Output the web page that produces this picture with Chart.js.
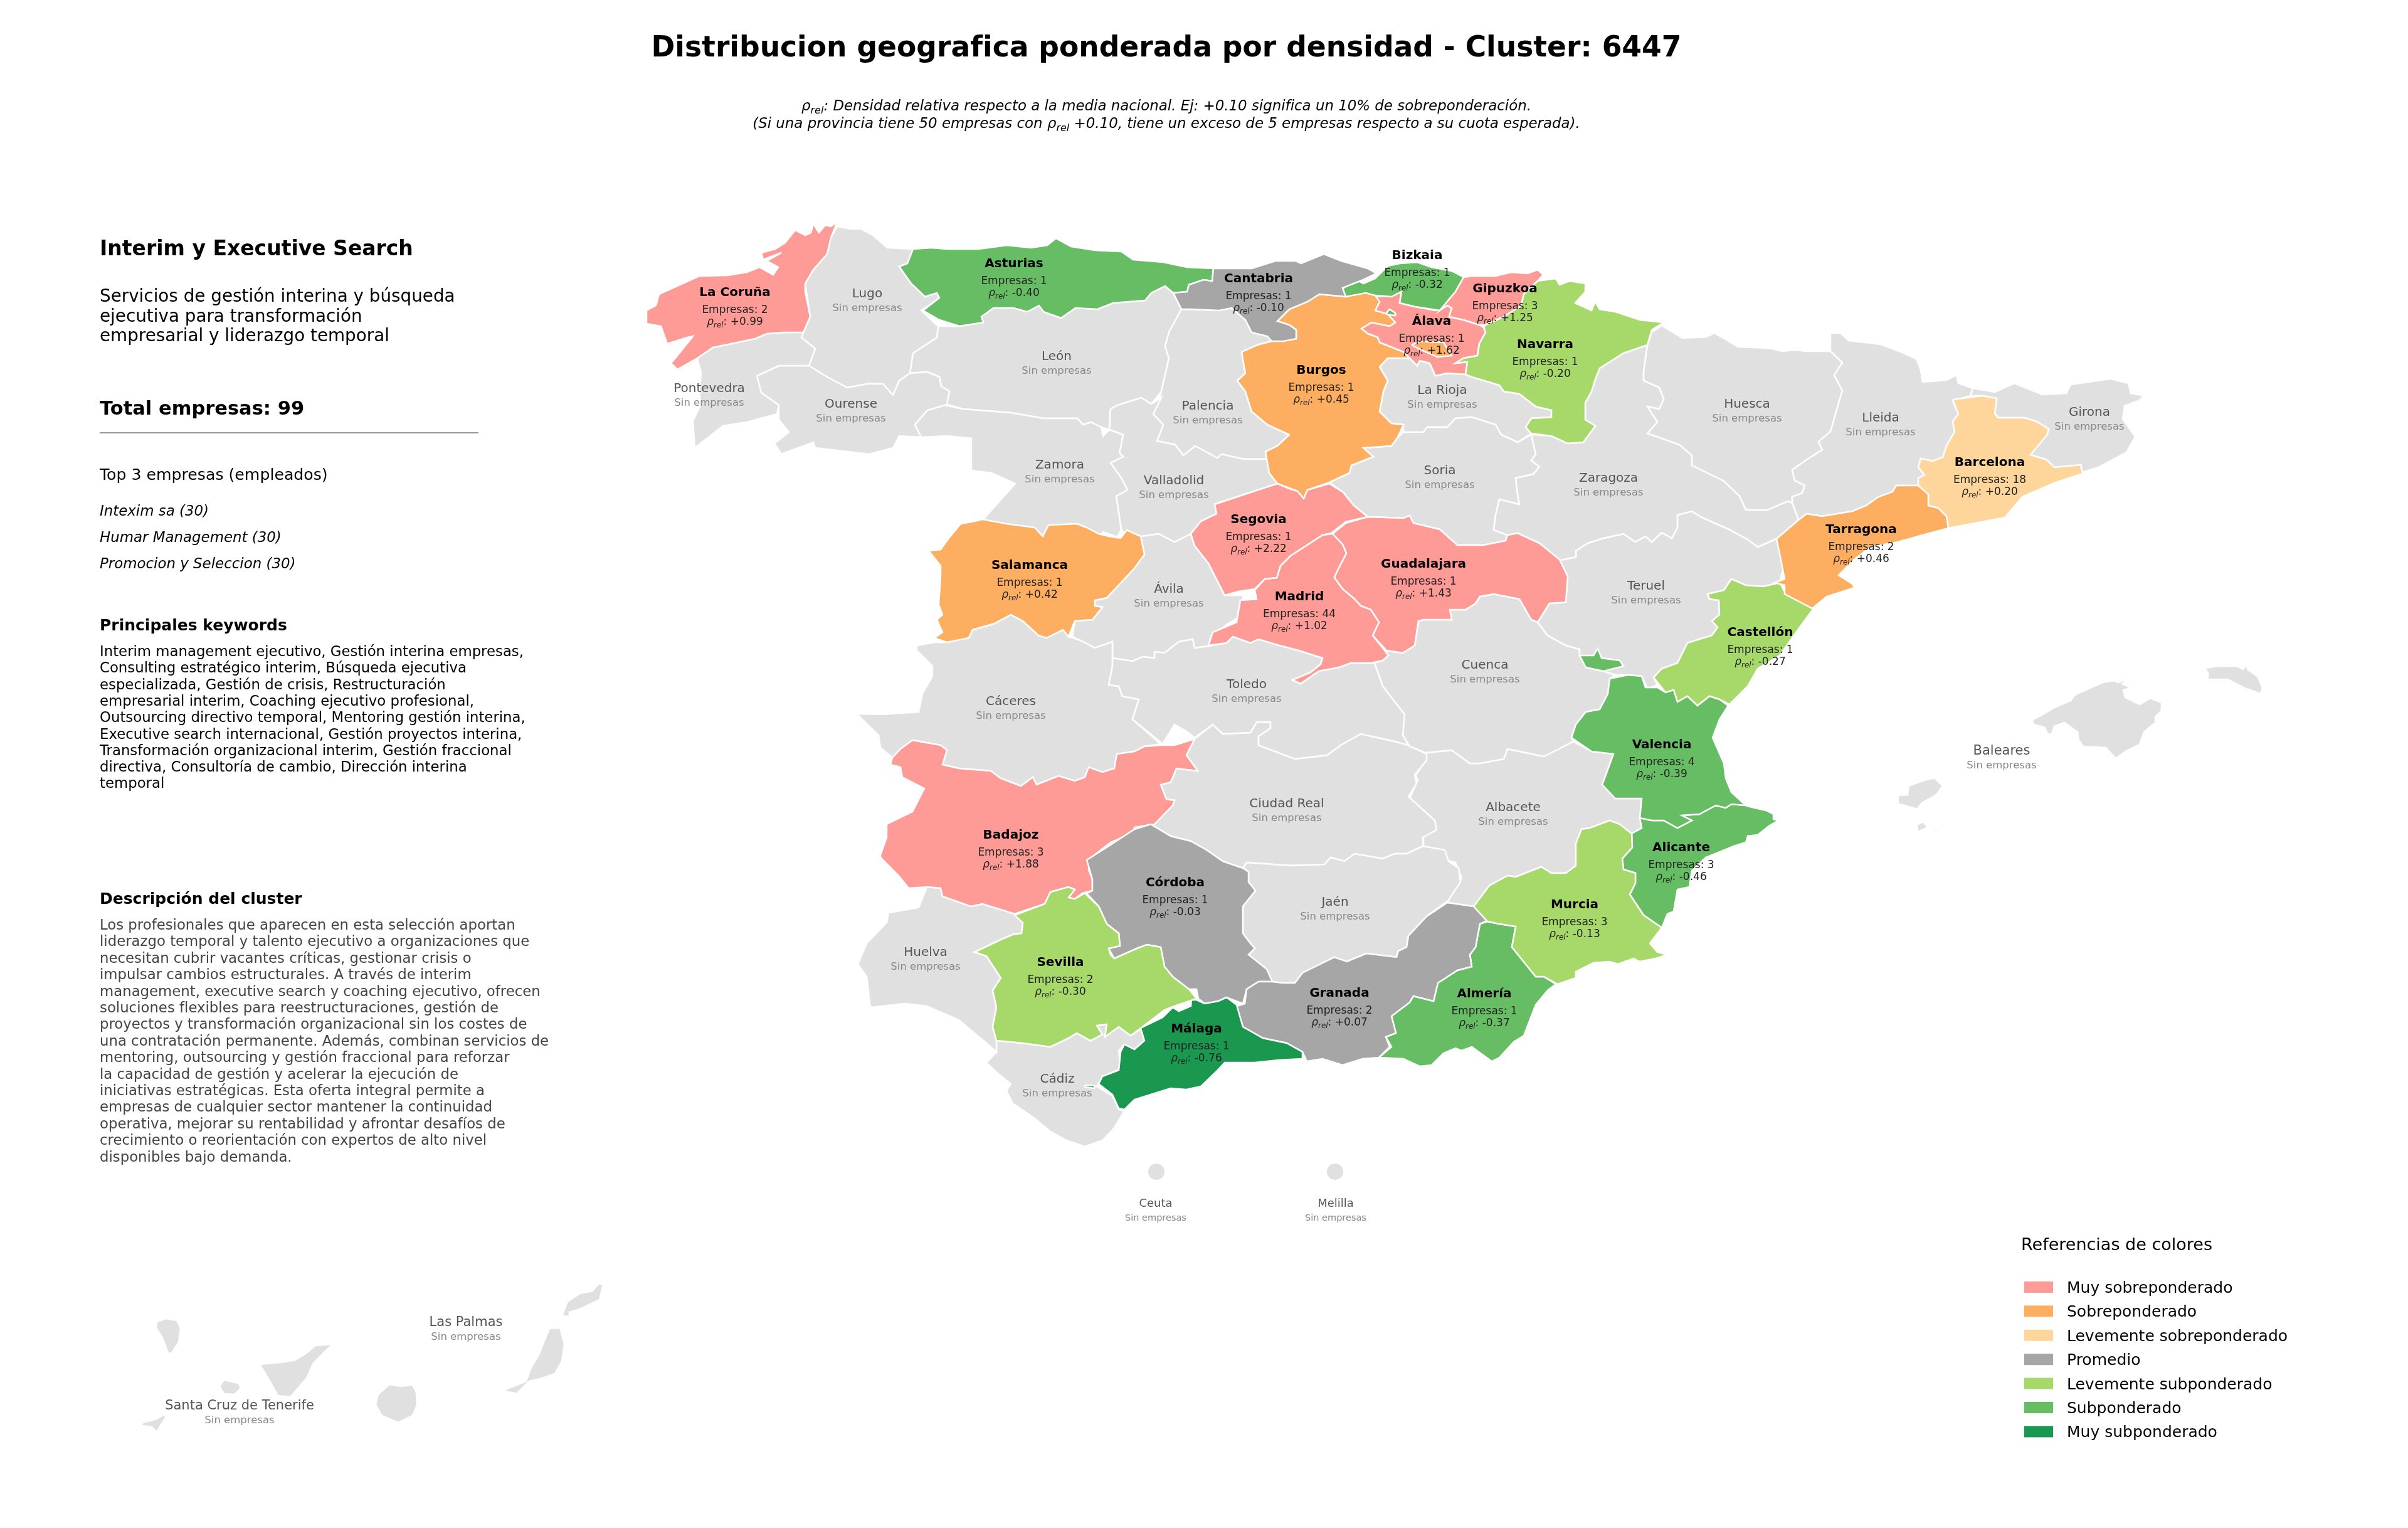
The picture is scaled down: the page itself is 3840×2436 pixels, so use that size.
<!DOCTYPE html>
<html lang="es">
<head>
<meta charset="utf-8">
<title>Distribucion geografica - Cluster 6447</title>
<script src="https://cdn.jsdelivr.net/npm/chart.js@4/dist/chart.umd.min.js"></script>
<style>
  html, body { margin: 0; padding: 0; background: #fff; }
  canvas { display: block; }
</style>
</head>
<body>
<canvas id="mapa" width="3840" height="2436"></canvas>
<script>
// Datos por provincia //////////////////////////////////////
const provincias = ["Álava","Albacete","Alicante","Almería","Asturias","Ávila","Badajoz","Baleares","Barcelona","Bizkaia","Burgos","Cáceres","Cádiz","Cantabria","Castellón","Ceuta","Ciudad Real","Córdoba","Cuenca","Gipuzkoa","Girona","Granada","Guadalajara","Huelva","Huesca","Jaén","La Coruña","La Rioja","Las Palmas","León","Lleida","Lugo","Madrid","Málaga","Melilla","Murcia","Navarra","Ourense","Palencia","Pontevedra","Salamanca","Santa Cruz de Tenerife","Segovia","Sevilla","Soria","Tarragona","Teruel","Toledo","Valencia","Valladolid","Zamora","Zaragoza"];
const empresas = [1,0,3,1,1,0,3,0,18,1,1,0,0,1,1,0,0,1,0,3,0,2,1,0,0,0,2,0,0,0,0,0,44,1,0,3,1,0,0,0,1,0,1,2,0,2,0,0,4,0,0,0];
const densidad = [1.62,null,-0.46,-0.37,-0.40,null,1.88,null,0.20,-0.32,0.45,null,null,-0.10,-0.27,null,null,-0.03,null,1.25,null,0.07,1.43,null,null,null,0.99,null,null,null,null,null,1.02,-0.76,null,-0.13,-0.20,null,null,null,0.42,null,2.22,-0.30,null,0.46,null,null,-0.39,null,null,null];

// Centro de cada etiqueta, en unidades del mapa
const etiquetaX = [2283,2413,2681,2367,1617,1864,1612,3192,3173,2260,2107,1612,1686,2007,2807,1843,2052,1874,2368,2400,3332,2136,2270,1476,2786,2129,1172,2300,743,1685,2999,1383,2072,1908,2130,2511,2464,1357,1926,1131,1642,382,2007,1691,2296,2968,2625,1988,2650,1872,1690,2565];
const etiquetaY = [511,1286,1350,1583,419,938,1330,1196,736,406,589,1117,1719,443,1007,1917,1280,1406,1059,459,656,1582,898,1517,643,1437,465,621,2107,567,665,467,950,1639,1917,1441,548,643,646,618,900,2240,827,1533,749,843,933,1090,1186,765,740,761];

// Contornos (x,y alternados, unidades del mapa) /////////////
const alava = [2193,473, 2219,471, 2235,465, 2232,483, 2257,489, 2289,495, 2308,487, 2315,491, 2311,505, 2334,510, 2359,518, 2366,522, 2369,530, 2359,548, 2356,567, 2334,571, 2321,579, 2340,577, 2337,597, 2308,595, 2289,599, 2280,579, 2264,575, 2260,583, 2248,571, 2238,561, 2200,546, 2197,538, 2181,532, 2171,524, 2187,514, 2216,520, 2225,514, 2213,501, 2193,495, 2200,481];
const albacete = [2246,1190, 2273,1200, 2315,1196, 2344,1217, 2360,1217, 2398,1210, 2404,1194, 2462,1206, 2509,1182, 2538,1198, 2573,1202, 2555,1251, 2576,1273, 2618,1273, 2615,1304, 2618,1320, 2602,1329, 2583,1314, 2567,1308, 2535,1320, 2522,1322, 2513,1345, 2513,1380, 2497,1392, 2474,1392, 2458,1382, 2417,1398, 2404,1396, 2375,1412, 2350,1445, 2308,1439, 2331,1400, 2321,1375, 2305,1371, 2302,1355, 2270,1351, 2270,1333, 2289,1310, 2273,1298, 2248,1273, 2261,1243, 2257,1237, 2273,1212];
const alicante = [2615,1304, 2634,1308, 2653,1308, 2675,1320, 2698,1308, 2682,1300, 2710,1298, 2736,1284, 2752,1288, 2761,1282, 2784,1284, 2790,1286, 2816,1292, 2828,1298, 2828,1306, 2836,1308, 2822,1316, 2803,1331, 2787,1333, 2784,1343, 2765,1349, 2720,1367, 2698,1388, 2694,1414, 2675,1418, 2669,1453, 2659,1457, 2650,1479, 2621,1459, 2599,1426, 2608,1408, 2608,1392, 2589,1386, 2587,1369, 2603,1351, 2602,1329, 2618,1320];
const almeria = [2372,1469, 2391,1473, 2417,1477, 2411,1510, 2449,1557, 2462,1557, 2481,1569, 2468,1579, 2449,1602, 2430,1651, 2414,1661, 2391,1686, 2379,1692, 2347,1669, 2331,1675, 2321,1671, 2302,1679, 2283,1698, 2264,1700, 2238,1688, 2199,1686, 2219,1669, 2210,1653, 2226,1647, 2219,1620, 2248,1598, 2254,1588, 2286,1596, 2293,1567, 2324,1547, 2347,1541, 2344,1522, 2353,1510, 2360,1473];
const asturias = [1456,397, 1485,395, 1510,397, 1561,397, 1606,391, 1644,395, 1670,391, 1684,380, 1708,393, 1746,399, 1788,401, 1807,414, 1855,418, 1893,426, 1935,428, 1933,448, 1919,446, 1896,454, 1893,465, 1871,467, 1858,456, 1836,467, 1826,479, 1775,483, 1750,493, 1715,491, 1692,507, 1664,497, 1657,487, 1638,497, 1616,491, 1584,491, 1565,505, 1568,514, 1530,520, 1498,510, 1472,495, 1498,475, 1494,467, 1475,473, 1453,452, 1434,425, 1447,420];
const avila = [1819,855, 1848,851, 1873,864, 1899,851, 1905,870, 1927,898, 1953,949, 1982,949, 1982,955, 1975,984, 1956,996, 1931,1015, 1927,1030, 1905,1033, 1902,1019, 1880,1023, 1857,1041, 1841,1039, 1841,1049, 1822,1047, 1806,1054, 1774,1049, 1774,1023, 1746,1033, 1723,1021, 1710,1015, 1714,990, 1742,988, 1758,968, 1746,966, 1746,957, 1765,953, 1809,906, 1825,884];
const badajoz = [1455,1180, 1500,1188, 1510,1196, 1503,1219, 1529,1225, 1580,1229, 1596,1241, 1628,1253, 1647,1239, 1653,1251, 1688,1237, 1714,1245, 1730,1239, 1736,1223, 1758,1231, 1777,1225, 1781,1202, 1809,1198, 1825,1190, 1851,1188, 1873,1188, 1905,1178, 1892,1204, 1910,1229, 1876,1225, 1867,1247, 1851,1251, 1860,1274, 1873,1276, 1870,1284, 1841,1314, 1809,1319, 1809,1327, 1771,1343, 1739,1368, 1736,1386, 1742,1402, 1742,1420, 1726,1424, 1714,1433, 1704,1431, 1714,1418, 1704,1414, 1675,1422, 1666,1441, 1618,1457, 1567,1441, 1548,1445, 1503,1429, 1500,1416, 1478,1414, 1449,1416, 1433,1396, 1404,1367, 1404,1363, 1414,1335, 1414,1314, 1455,1294, 1474,1257, 1439,1239, 1436,1223, 1420,1219, 1423,1208, 1436,1194];
const mallorca = [3241,1148, 3261,1137, 3276,1128, 3302,1117, 3310,1107, 3353,1088, 3371,1085, 3378,1088, 3396,1080, 3384,1090, 3399,1097, 3386,1100, 3389,1112, 3412,1123, 3429,1113, 3447,1120, 3447,1133, 3437,1143, 3437,1152, 3419,1167, 3412,1187, 3391,1197, 3374,1209, 3358,1192, 3322,1190, 3315,1180, 3313,1167, 3292,1152, 3276,1158, 3271,1172, 3264,1168, 3261,1160, 3243,1155];
const menorca = [3516,1065, 3537,1062, 3567,1062, 3577,1067, 3582,1060, 3585,1068, 3600,1078, 3608,1097, 3605,1106, 3582,1098, 3552,1083, 3521,1083, 3521,1073];
const ibiza = [3027,1268, 3042,1267, 3044,1253, 3065,1245, 3085,1240, 3098,1253, 3088,1267, 3065,1280, 3057,1290, 3034,1283, 3027,1282];
const formentera = [3057,1315, 3067,1310, 3075,1320, 3092,1323, 3088,1326, 3072,1320, 3058,1326];
const barcelona = [3114,637, 3161,631, 3184,635, 3181,660, 3187,666, 3228,666, 3248,672, 3267,684, 3264,694, 3238,725, 3264,733, 3276,745, 3318,741, 3321,755, 3276,770, 3225,792, 3197,825, 3107,842, 3104,823, 3091,810, 3075,806, 3075,788, 3059,780, 3059,762, 3069,757, 3059,745, 3063,731, 3082,735, 3098,729, 3104,711, 3117,688, 3114,672, 3123,660];
const bizkaia = [2141,460, 2165,447, 2174,452, 2193,444, 2213,424, 2232,420, 2260,418, 2283,426, 2315,432, 2334,442, 2321,465, 2296,495, 2257,489, 2232,483, 2235,465, 2219,473, 2193,471, 2146,473];
const orduna = [2209,501, 2216,493, 2225,499, 2225,503];
const burgos = [2104,469, 2146,473, 2178,467, 2193,471, 2200,481, 2193,495, 2213,501, 2225,514, 2216,520, 2187,514, 2171,524, 2181,532, 2197,538, 2200,546, 2238,561, 2248,571, 2213,571, 2200,585, 2213,607, 2206,624, 2200,656, 2219,675, 2238,677, 2229,697, 2219,711, 2174,714, 2190,728, 2155,742, 2152,754, 2120,769, 2085,781, 2079,795, 2069,783, 2037,771, 2024,754, 2018,720, 2037,711, 2056,693, 2021,677, 1996,656, 1986,624, 1973,607, 1986,595, 1983,579, 1980,561, 2005,550, 2028,544, 2067,540, 2067,526, 2056,518, 2037,512, 2056,493, 2085,481];
const trevino = [2251,550, 2264,544, 2302,546, 2315,567, 2292,569, 2267,558];
const caceres = [1462,1029, 1490,1024, 1510,1024, 1545,1017, 1551,1004, 1586,994, 1612,980, 1631,990, 1656,1013, 1669,1017, 1695,1004, 1704,1015, 1723,1021, 1746,1033, 1774,1023, 1774,1049, 1774,1062, 1768,1092, 1784,1094, 1790,1110, 1816,1115, 1806,1147, 1851,1186, 1825,1190, 1809,1198, 1781,1202, 1777,1225, 1758,1231, 1736,1223, 1730,1239, 1714,1245, 1688,1237, 1653,1251, 1647,1239, 1628,1253, 1596,1241, 1580,1229, 1529,1225, 1503,1219, 1510,1196, 1500,1188, 1455,1180, 1436,1194, 1423,1208, 1404,1192, 1401,1172, 1366,1138, 1407,1139, 1465,1135, 1471,1106, 1487,1078, 1487,1062, 1462,1037];
const cadiz = [1589,1659, 1631,1663, 1675,1669, 1704,1655, 1717,1647, 1739,1659, 1758,1649, 1749,1635, 1765,1633, 1762,1653, 1784,1637, 1803,1651, 1819,1641, 1829,1659, 1809,1673, 1793,1665, 1784,1675, 1787,1704, 1758,1716, 1749,1732, 1774,1747, 1784,1769, 1793,1771, 1777,1798, 1758,1818, 1730,1828, 1701,1818, 1675,1804, 1650,1783, 1615,1759, 1605,1739, 1612,1728, 1592,1712, 1573,1694, 1589,1677];
const cantabria = [1935,428, 1970,428, 1996,428, 2034,416, 2066,416, 2075,420, 2111,405, 2139,416, 2181,428, 2195,436, 2174,446, 2141,459, 2146,473, 2104,469, 2085,481, 2056,493, 2037,512, 2056,518, 2067,526, 2067,540, 2047,544, 2028,544, 2021,536, 1996,530, 1986,510, 1964,491, 1944,495, 1900,493, 1884,493, 1871,467, 1893,465, 1896,454, 1919,446, 1933,448];
const castellon = [2723,947, 2749,941, 2761,923, 2784,933, 2812,935, 2838,929, 2848,947, 2876,957, 2892,970, 2870,1000, 2838,1045, 2803,1066, 2787,1094, 2758,1123, 2742,1115, 2726,1110, 2707,1125, 2691,1110, 2675,1119, 2669,1100, 2656,1104, 2637,1080, 2650,1066, 2675,1057, 2691,1025, 2730,1013, 2739,1000, 2730,990, 2742,980, 2741,957, 2726,955];
const ciudadReal = [1905,1178, 1934,1155, 1950,1170, 1994,1168, 2004,1151, 2026,1151, 2026,1161, 2007,1174, 2007,1188, 2065,1210, 2116,1204, 2138,1188, 2170,1170, 2224,1182, 2246,1188, 2275,1202, 2275,1212, 2256,1235, 2259,1249, 2246,1270, 2288,1308, 2291,1323, 2269,1335, 2269,1349, 2243,1361, 2224,1361, 2205,1369, 2160,1361, 2144,1373, 2122,1367, 2112,1378, 2058,1380, 1988,1375, 1982,1384, 1950,1373, 1924,1355, 1899,1341, 1867,1333, 1835,1314, 1841,1312, 1870,1284, 1873,1276, 1860,1274, 1851,1251, 1867,1247, 1876,1225, 1910,1229, 1892,1204];
const cordoba = [1835,1314, 1867,1333, 1899,1341, 1924,1355, 1950,1373, 1982,1384, 1991,1390, 1991,1406, 2002,1420, 1982,1445, 1982,1488, 1994,1504, 2001,1512, 1991,1522, 2020,1545, 2029,1565, 2007,1565, 1988,1577, 1982,1600, 1956,1590, 1943,1596, 1921,1600, 1911,1592, 1908,1577, 1896,1577, 1870,1557, 1857,1541, 1851,1510, 1829,1506, 1813,1512, 1777,1528, 1768,1512, 1786,1508, 1784,1488, 1765,1473, 1752,1445, 1733,1424, 1742,1420, 1742,1402, 1733,1371, 1768,1349, 1809,1322];
const cuenca = [2205,1053, 2214,1045, 2208,1037, 2237,1041, 2256,1029, 2262,990, 2270,988, 2315,988, 2312,972, 2337,972, 2353,962, 2360,951, 2382,947, 2423,955, 2442,988, 2452,992, 2468,1013, 2497,1029, 2519,1035, 2519,1045, 2529,1064, 2557,1070, 2576,1076, 2567,1082, 2564,1106, 2551,1131, 2529,1135, 2513,1155, 2506,1176, 2509,1182, 2462,1206, 2404,1194, 2398,1210, 2360,1217, 2344,1217, 2315,1196, 2273,1200, 2248,1190, 2237,1172, 2238,1139, 2205,1094, 2192,1057];
const gipuzkoa = [2334,442, 2347,440, 2385,440, 2410,434, 2436,436, 2452,430, 2461,438, 2452,448, 2430,469, 2426,487, 2398,505, 2369,518, 2359,518, 2334,510, 2311,505, 2315,491, 2308,487, 2296,495, 2321,465];
const girona = [3146,619, 3181,625, 3212,611, 3257,629, 3295,627, 3302,613, 3366,604, 3394,611, 3398,627, 3420,631, 3410,639, 3388,647, 3385,668, 3405,696, 3391,721, 3346,745, 3321,753, 3318,741, 3276,745, 3264,733, 3238,725, 3264,694, 3267,684, 3248,672, 3228,666, 3187,666, 3181,660, 3184,635, 3161,631, 3142,631];
const granada = [2308,1439, 2350,1445, 2372,1467, 2360,1473, 2353,1510, 2344,1522, 2347,1541, 2324,1547, 2293,1567, 2286,1596, 2254,1588, 2248,1598, 2219,1620, 2226,1647, 2210,1653, 2216,1669, 2199,1686, 2173,1688, 2141,1698, 2109,1688, 2084,1692, 2077,1677, 2052,1663, 2014,1655, 1982,1637, 1972,1604, 1985,1600, 1988,1577, 2007,1565, 2029,1565, 2045,1567, 2065,1567, 2077,1551, 2128,1526, 2148,1533, 2179,1520, 2227,1526, 2230,1516, 2243,1510, 2246,1492, 2275,1461];
const guadalajara = [2125,851, 2146,834, 2181,824, 2238,826, 2248,822, 2254,834, 2296,844, 2324,869, 2366,869, 2401,862, 2404,853, 2420,850, 2455,866, 2487,892, 2500,919, 2497,960, 2471,962, 2452,992, 2442,988, 2423,955, 2382,947, 2360,951, 2353,962, 2337,972, 2312,972, 2315,988, 2270,988, 2262,990, 2256,1029, 2237,1041, 2211,1037, 2189,1013, 2199,992, 2186,972, 2170,966, 2160,955, 2141,939, 2128,921, 2132,911, 2147,882, 2141,868];
const huelva = [1478,1414, 1500,1416, 1503,1429, 1548,1445, 1567,1441, 1618,1457, 1631,1471, 1629,1488, 1615,1490, 1596,1498, 1554,1518, 1573,1524, 1596,1559, 1583,1579, 1589,1606, 1583,1637, 1589,1659, 1589,1677, 1573,1663, 1529,1626, 1478,1604, 1443,1600, 1388,1606, 1382,1557, 1368,1537, 1382,1504, 1414,1471, 1417,1455, 1465,1447];
const huesca = [2627,550, 2634,530, 2650,519, 2683,539, 2721,537, 2734,531, 2772,553, 2823,555, 2842,560, 2862,558, 2881,560, 2919,560, 2938,578, 2925,598, 2938,623, 2932,643, 2919,688, 2900,704, 2906,717, 2881,733, 2858,749, 2862,766, 2878,774, 2874,786, 2858,792, 2858,802, 2851,799, 2819,813, 2784,813, 2774,791, 2749,767, 2698,742, 2698,726, 2678,709, 2627,691, 2643,673, 2627,648, 2646,652, 2653,636, 2646,618, 2621,607, 2621,591];
const jaen = [1982,1384, 1988,1375, 2058,1380, 2112,1378, 2122,1367, 2144,1373, 2160,1361, 2205,1369, 2224,1361, 2243,1361, 2269,1349, 2304,1355, 2310,1373, 2326,1384, 2329,1406, 2310,1435, 2275,1461, 2246,1492, 2243,1510, 2230,1516, 2227,1526, 2179,1520, 2148,1533, 2128,1526, 2077,1551, 2065,1567, 2045,1567, 2029,1565, 2020,1545, 1991,1522, 2001,1512, 1994,1504, 1982,1488, 1982,1445, 2002,1420, 1991,1406, 1991,1390];
const coruna = [1335,354, 1325,361, 1316,359, 1306,371, 1297,357, 1293,371, 1284,375, 1268,367, 1252,387, 1236,397, 1214,403, 1217,414, 1246,403, 1223,416, 1241,426, 1233,438, 1211,426, 1191,434, 1160,439, 1115,440, 1093,450, 1051,469, 1046,487, 1031,495, 1031,516, 1054,520, 1064,548, 1096,538, 1105,536, 1077,571, 1070,579, 1080,589, 1112,571, 1137,554, 1166,548, 1204,540, 1223,532, 1249,530, 1281,530, 1292,505, 1284,465, 1284,452, 1297,430, 1319,405, 1325,379];
const rioja = [2200,585, 2213,571, 2248,571, 2260,583, 2264,575, 2280,579, 2289,599, 2308,595, 2337,597, 2347,601, 2391,614, 2398,624, 2423,628, 2449,648, 2474,654, 2474,665, 2442,667, 2433,681, 2442,691, 2420,705, 2394,693, 2385,677, 2347,665, 2321,667, 2308,681, 2276,681, 2270,689, 2238,689, 2238,677, 2219,675, 2200,656, 2206,624, 2213,607];
const granCanaria = [621,2207, 638,2210, 658,2208, 664,2220, 665,2240, 658,2257, 635,2268, 609,2257, 599,2240, 603,2223];
const fuerteventura = [876,2118, 893,2117, 900,2143, 896,2170, 885,2190, 862,2198, 844,2202, 824,2222, 801,2217, 839,2202, 847,2180, 859,2160];
const lanzarote = [896,2098, 905,2075, 925,2062, 945,2058, 954,2047, 962,2047, 956,2072, 925,2087, 908,2092, 908,2099];
const leon = [1496,520, 1530,520, 1568,514, 1565,505, 1584,491, 1616,491, 1638,497, 1657,487, 1664,497, 1692,507, 1715,491, 1750,493, 1775,483, 1826,479, 1836,467, 1858,456, 1871,467, 1884,493, 1864,530, 1858,552, 1864,571, 1852,624, 1836,644, 1820,634, 1782,646, 1771,652, 1769,685, 1756,681, 1740,673, 1727,677, 1718,667, 1664,667, 1612,658, 1561,654, 1536,652, 1507,644, 1514,624, 1501,616, 1498,601, 1479,593, 1451,595, 1456,563, 1494,538];
const lleida = [2919,531, 2935,531, 2948,543, 2983,547, 2999,549, 3034,562, 3056,572, 3063,590, 3066,609, 3104,606, 3120,598, 3123,611, 3146,619, 3142,631, 3114,639, 3123,660, 3114,672, 3117,688, 3104,711, 3098,729, 3082,735, 3063,731, 3059,745, 3069,757, 3059,774, 3024,774, 3018,784, 2996,792, 2976,806, 2954,815, 2906,823, 2881,819, 2868,829, 2858,802, 2858,792, 2874,786, 2878,774, 2862,766, 2858,749, 2881,733, 2906,717, 2900,704, 2919,688, 2932,643, 2938,623, 2925,598, 2938,578, 2919,560];
const lugo = [1335,361, 1357,365, 1373,365, 1392,375, 1415,395, 1456,397, 1447,420, 1434,425, 1453,452, 1475,473, 1494,467, 1498,475, 1469,495, 1496,520, 1494,538, 1456,563, 1451,595, 1434,607, 1424,630, 1408,612, 1383,612, 1351,618, 1319,601, 1290,583, 1300,556, 1278,538, 1281,530, 1292,505, 1284,452, 1297,430, 1319,405, 1325,379];
const madrid = [2125,851, 2141,868, 2147,882, 2132,911, 2128,921, 2141,939, 2160,955, 2170,966, 2186,972, 2199,992, 2189,1013, 2208,1037, 2214,1045, 2205,1053, 2186,1057, 2154,1057, 2135,1064, 2103,1070, 2074,1090, 2061,1084, 2090,1072, 2106,1059, 2109,1049, 2071,1037, 2033,1027, 2007,1019, 1994,1025, 1966,1015, 1956,1025, 1927,1029, 1934,1008, 1972,992, 1978,957, 2004,955, 2001,941, 2017,923, 2036,921, 2042,902, 2058,886, 2109,853];
const malaga = [1908,1594, 1921,1600, 1943,1596, 1956,1590, 1972,1602, 1982,1637, 2014,1655, 2052,1663, 2077,1677, 2077,1688, 2039,1690, 2001,1694, 1953,1694, 1940,1708, 1915,1732, 1892,1737, 1867,1735, 1835,1745, 1809,1753, 1793,1769, 1784,1767, 1774,1745, 1752,1728, 1758,1716, 1784,1706, 1787,1677, 1793,1665, 1809,1673, 1825,1659, 1819,1639, 1854,1622, 1870,1606, 1880,1612, 1899,1604, 1900,1594];
const malagaCosta = [1730,1730, 1746,1731, 1745,1735, 1730,1733];
const murcia = [2350,1445, 2375,1412, 2404,1396, 2417,1398, 2458,1382, 2474,1392, 2497,1392, 2513,1380, 2513,1345, 2522,1322, 2535,1320, 2567,1308, 2583,1314, 2602,1329, 2603,1351, 2587,1369, 2589,1386, 2608,1392, 2608,1408, 2599,1426, 2621,1459, 2650,1479, 2643,1488, 2631,1504, 2643,1518, 2659,1522, 2640,1528, 2615,1533, 2605,1528, 2580,1537, 2567,1533, 2541,1535, 2513,1549, 2513,1559, 2484,1569, 2462,1557, 2449,1557, 2411,1510, 2417,1477, 2391,1473, 2372,1469];
const navarra = [2452,448, 2481,444, 2487,454, 2503,448, 2528,452, 2528,465, 2512,483, 2538,495, 2544,481, 2551,493, 2576,497, 2615,510, 2653,514, 2634,526, 2627,550, 2589,563, 2570,575, 2551,587, 2544,605, 2538,624, 2528,642, 2528,669, 2544,679, 2525,705, 2500,707, 2474,695, 2442,691, 2433,681, 2442,667, 2474,665, 2474,654, 2449,648, 2423,628, 2398,624, 2391,614, 2347,601, 2337,597, 2340,577, 2321,579, 2334,571, 2356,567, 2359,548, 2369,530, 2366,522, 2369,518, 2398,505, 2426,487, 2430,469];
const ourense = [1207,599, 1242,583, 1274,583, 1290,583, 1319,601, 1351,618, 1383,612, 1408,612, 1424,630, 1434,607, 1451,595, 1479,593, 1498,601, 1501,616, 1514,624, 1510,644, 1504,648, 1479,654, 1459,677, 1469,697, 1434,695, 1424,714, 1386,724, 1351,720, 1300,714, 1297,705, 1246,724, 1235,707, 1258,689, 1242,669, 1242,646, 1214,626];
const palencia = [1884,493, 1900,493, 1944,495, 1964,491, 1986,510, 1996,530, 2021,536, 2028,544, 2005,550, 1983,561, 1983,579, 1986,595, 1973,607, 1986,624, 1996,656, 2021,677, 2056,693, 2037,711, 2018,720, 2024,732, 1983,732, 1948,724, 1941,730, 1906,711, 1887,726, 1874,709, 1845,703, 1855,677, 1839,660, 1849,634, 1852,624, 1864,571, 1858,552, 1864,530];
const pontevedra = [1112,571, 1137,554, 1166,548, 1204,540, 1223,532, 1249,530, 1281,530, 1278,538, 1300,556, 1290,583, 1274,583, 1242,583, 1207,599, 1214,626, 1242,646, 1239,660, 1191,673, 1153,679, 1108,714, 1105,671, 1118,644, 1115,624, 1118,595];
const salamanca = [1554,831, 1532,835, 1513,858, 1500,876, 1481,878, 1500,902, 1500,915, 1497,964, 1503,980, 1494,988, 1503,1008, 1490,1017, 1510,1024, 1545,1017, 1551,1004, 1586,994, 1612,980, 1631,990, 1656,1013, 1669,1017, 1695,1004, 1704,1015, 1714,990, 1742,988, 1758,968, 1746,966, 1746,957, 1765,953, 1809,906, 1825,884, 1819,855, 1797,845, 1787,858, 1768,855, 1752,851, 1733,841, 1717,835, 1672,837, 1663,855, 1650,841, 1605,835, 1567,828];
const laPalma = [250,2107, 265,2102, 282,2105, 288,2118, 285,2140, 273,2158, 268,2157, 259,2133, 249,2117];
const tenerife = [414,2175, 448,2172, 471,2168, 489,2157, 503,2145, 532,2143, 523,2150, 500,2173, 489,2197, 463,2227, 443,2225, 431,2203];
const gomera = [357,2200, 380,2205, 384,2213, 374,2223, 357,2222, 350,2210];
const hierro = [227,2268, 250,2262, 262,2255, 265,2258, 250,2283, 242,2275, 226,2273];
const segovia = [2037,771, 2056,779, 2069,783, 2079,795, 2085,781, 2120,771, 2142,785, 2158,805, 2181,824, 2146,832, 2123,850, 2109,853, 2058,886, 2042,902, 2036,921, 2017,923, 2001,939, 1975,943, 1953,949, 1927,898, 1905,870, 1899,851, 1915,831, 1940,819, 1937,804];
const sevilla = [1618,1459, 1666,1441, 1675,1422, 1704,1414, 1714,1418, 1704,1431, 1714,1433, 1730,1424, 1752,1445, 1765,1473, 1784,1488, 1786,1508, 1768,1512, 1771,1522, 1777,1528, 1813,1512, 1829,1506, 1851,1510, 1857,1541, 1870,1557, 1896,1577, 1908,1592, 1873,1604, 1857,1610, 1822,1637, 1803,1651, 1784,1637, 1762,1653, 1765,1633, 1749,1635, 1758,1649, 1739,1659, 1717,1647, 1704,1655, 1675,1669, 1631,1663, 1589,1659, 1583,1637, 1589,1606, 1583,1579, 1596,1559, 1573,1524, 1554,1518, 1596,1498, 1615,1490, 1629,1488, 1631,1471];
const soria = [2238,689, 2270,689, 2276,681, 2308,681, 2321,667, 2347,665, 2385,677, 2394,693, 2420,705, 2442,693, 2449,724, 2442,734, 2455,744, 2445,756, 2417,762, 2420,787, 2423,804, 2391,796, 2385,821, 2382,845, 2404,853, 2401,862, 2366,869, 2324,869, 2296,844, 2254,834, 2248,822, 2238,826, 2181,824, 2158,805, 2142,785, 2120,769, 2152,754, 2155,742, 2190,728, 2174,714, 2219,711, 2229,697];
const tarragona = [2868,829, 2881,819, 2906,823, 2954,815, 2976,806, 2996,792, 3018,784, 3024,774, 3059,774, 3075,788, 3075,806, 3091,810, 3104,823, 3107,842, 3066,853, 3027,864, 2983,872, 2957,892, 2932,917, 2954,931, 2957,937, 2913,951, 2890,970, 2846,947, 2846,933, 2830,929, 2846,923, 2839,888, 2833,859];
const teruel = [2484,894, 2513,888, 2513,878, 2532,866, 2557,858, 2589,851, 2608,864, 2624,855, 2634,864, 2650,849, 2666,858, 2675,841, 2675,821, 2698,815, 2714,825, 2755,843, 2787,860, 2803,872, 2833,859, 2851,886, 2841,915, 2838,929, 2812,935, 2784,933, 2761,923, 2749,941, 2723,947, 2726,955, 2741,957, 2742,980, 2730,990, 2739,1000, 2730,1013, 2691,1025, 2675,1057, 2650,1066, 2637,1080, 2643,1092, 2627,1098, 2618,1078, 2596,1076, 2576,1076, 2557,1070, 2529,1064, 2519,1045, 2519,1035, 2497,1029, 2468,1013, 2452,992, 2471,962, 2497,960, 2500,919, 2487,892];
const toledo = [1774,1049, 1806,1054, 1822,1047, 1841,1049, 1841,1039, 1857,1041, 1880,1023, 1902,1019, 1905,1033, 1927,1030, 1956,1025, 1966,1015, 1994,1025, 2007,1019, 2033,1027, 2071,1037, 2109,1049, 2106,1059, 2090,1072, 2061,1084, 2074,1090, 2103,1070, 2135,1064, 2154,1057, 2186,1057, 2192,1057, 2205,1094, 2240,1139, 2237,1172, 2246,1188, 2224,1182, 2170,1170, 2138,1188, 2116,1204, 2065,1210, 2007,1188, 2007,1174, 2026,1161, 2026,1151, 2004,1151, 1994,1168, 1950,1170, 1934,1155, 1905,1176, 1892,1166, 1873,1155, 1854,1186, 1806,1147, 1816,1115, 1790,1110, 1784,1094, 1768,1092, 1774,1062];
const valencia = [2567,1082, 2596,1076, 2618,1078, 2624,1096, 2643,1096, 2656,1104, 2669,1100, 2675,1119, 2691,1110, 2707,1125, 2726,1110, 2742,1115, 2756,1125, 2742,1147, 2731,1176, 2749,1217, 2752,1241, 2761,1263, 2784,1284, 2761,1282, 2752,1288, 2736,1284, 2710,1298, 2682,1300, 2698,1308, 2675,1320, 2653,1308, 2634,1308, 2615,1304, 2618,1273, 2576,1273, 2555,1251, 2573,1202, 2538,1198, 2506,1176, 2513,1155, 2529,1135, 2551,1131, 2564,1106];
const ademuz = [2519,1045, 2541,1045, 2548,1034, 2554,1049, 2583,1053, 2589,1062, 2557,1070, 2529,1064];
const valladolid = [1771,652, 1782,646, 1820,634, 1836,644, 1852,634, 1839,660, 1855,677, 1845,703, 1874,709, 1887,726, 1906,711, 1941,730, 1948,724, 1983,732, 2024,732, 2024,754, 2037,771, 1938,803, 1945,818, 1915,831, 1899,851, 1873,864, 1848,851, 1819,855, 1791,848, 1788,844, 1780,791, 1798,781, 1788,762, 1771,738, 1791,728, 1785,722, 1791,693, 1769,685];
const zamora = [1507,646, 1536,652, 1561,654, 1612,658, 1664,667, 1718,667, 1727,677, 1740,673, 1756,681, 1759,695, 1769,685, 1791,693, 1785,722, 1791,728, 1771,738, 1788,762, 1798,781, 1780,791, 1788,844, 1782,856, 1759,848, 1750,858, 1721,836, 1670,848, 1664,864, 1648,852, 1612,846, 1568,828, 1619,771, 1581,754, 1549,750, 1549,699, 1510,695, 1469,697, 1459,677, 1479,654];
const zaragoza = [2442,693, 2474,695, 2500,707, 2525,705, 2544,679, 2528,669, 2528,642, 2538,624, 2544,605, 2551,587, 2570,575, 2589,563, 2627,550, 2621,591, 2621,607, 2646,618, 2653,636, 2646,652, 2627,648, 2643,673, 2627,691, 2678,709, 2698,726, 2698,742, 2749,767, 2774,791, 2784,813, 2819,813, 2851,799, 2858,802, 2868,829, 2833,859, 2803,872, 2787,860, 2755,843, 2714,825, 2698,815, 2675,821, 2675,841, 2666,858, 2650,849, 2634,864, 2624,855, 2608,864, 2589,851, 2557,858, 2532,866, 2513,878, 2513,888, 2484,894, 2455,866, 2420,850, 2404,853, 2382,845, 2385,821, 2391,796, 2423,804, 2420,787, 2417,762, 2445,756, 2455,744, 2442,734, 2449,724];

// Ceuta y Melilla van como punto, no como contorno
const ceuta = [1844,1868];
const melilla = [2129,1868];

// Trozos de cada provincia, mismo orden que "provincias"
const trozos = [[alava],[albacete],[alicante],[almeria],[asturias],[avila],[badajoz],[mallorca,menorca,ibiza,formentera],[barcelona],[bizkaia,orduna],[burgos,trevino],[caceres],[cadiz],[cantabria],[castellon],[ceuta],[ciudadReal],[cordoba],[cuenca],[gipuzkoa],[girona],[granada],[guadalajara],[huelva],[huesca],[jaen],[coruna],[rioja],[granCanaria,fuerteventura,lanzarote],[leon],[lleida],[lugo],[madrid],[malaga,malagaCosta],[melilla],[murcia],[navarra],[ourense],[palencia],[pontevedra],[salamanca],[laPalma,tenerife,gomera,hierro],[segovia],[sevilla],[soria],[tarragona],[teruel],[toledo],[valencia,ademuz],[valladolid],[zamora],[zaragoza]];

// Leyenda
const clases = ["Muy sobreponderado","Sobreponderado","Levemente sobreponderado","Promedio","Levemente subponderado","Subponderado","Muy subponderado"];
const coloresClase = ["#ff9b97","#fdae61","#fed69b","#a6a6a6","#a6d96a","#66bd63","#1a9850"];
const colorSinDatos = "#e0e0e0";

// Panel izquierdo
const subtitulo = ["Servicios de gestión interina y búsqueda","ejecutiva para transformación","empresarial y liderazgo temporal"];
const topEmpresas = ["Intexim sa (30)","Humar Management (30)","Promocion y Seleccion (30)"];
const keywords = ["Interim management ejecutivo, Gestión interina empresas,","Consulting estratégico interim, Búsqueda ejecutiva","especializada, Gestión de crisis, Restructuración","empresarial interim, Coaching ejecutivo profesional,","Outsourcing directivo temporal, Mentoring gestión interina,","Executive search internacional, Gestión proyectos interina,","Transformación organizacional interim, Gestión fraccional","directiva, Consultoría de cambio, Dirección interina","temporal"];
const descripcion = ["Los profesionales que aparecen en esta selección aportan","liderazgo temporal y talento ejecutivo a organizaciones que","necesitan cubrir vacantes críticas, gestionar crisis o","impulsar cambios estructurales. A través de interim","management, executive search y coaching ejecutivo, ofrecen","soluciones flexibles para reestructuraciones, gestión de","proyectos y transformación organizacional sin los costes de","una contratación permanente. Además, combinan servicios de","mentoring, outsourcing y gestión fraccional para reforzar","la capacidad de gestión y acelerar la ejecución de","iniciativas estratégicas. Esta oferta integral permite a","empresas de cualquier sector mantener la continuidad","operativa, mejorar su rentabilidad y afrontar desafíos de","crecimiento o reorientación con expertos de alto nivel","disponibles bajo demanda."];

const FONT = '"DejaVu Sans"';

function colorDe(rho) {
  if (rho === null) return colorSinDatos;
  if (rho >= 0.75) return coloresClase[0];
  if (rho >= 0.3) return coloresClase[1];
  if (rho >= 0.1) return coloresClase[2];
  if (rho >= -0.1) return coloresClase[3];
  if (rho >= -0.3) return coloresClase[4];
  if (rho >= -0.6) return coloresClase[5];
  return coloresClase[6];
}

function aPuntos(plano) {
  const pts = [];
  for (let i = 0; i < plano.length; i += 2) pts.push({ x: plano[i], y: plano[i + 1] });
  if (pts.length > 1) pts.push(pts[0]);
  return pts;
}

// Primero las provincias grises, encima las que tienen color
const datasets = [];
const indices = provincias.map((_, i) => i);
indices.filter(i => densidad[i] === null).concat(indices.filter(i => densidad[i] !== null)).forEach(i => {
  trozos[i].forEach(plano => {
    const color = colorDe(densidad[i]);
    const esPunto = plano.length === 2;
    datasets.push({
      label: provincias[i],
      data: aPuntos(plano),
      showLine: !esPunto,
      fill: esPunto ? false : 'shape',
      backgroundColor: color,
      borderColor: '#fff',
      borderWidth: 2.5,
      tension: 0,
      pointRadius: esPunto ? 13 : 0,
      pointBackgroundColor: color,
      pointBorderWidth: 0
    });
  });
});
// chart.js pinta del último al primero
datasets.reverse();

function texto(ctx, t, x, y, font, color, align) {
  ctx.font = font;
  ctx.fillStyle = color;
  ctx.textAlign = align || 'left';
  ctx.fillText(t, x, y);
}

// "ρ rel" con subíndice + resto del texto, centrado en x
function lineaRho(ctx, partes, cx, y, size, color, cursiva) {
  const fNorm = (cursiva ? 'italic ' : '') + size + 'px ' + FONT;
  const fRho = 'italic ' + size + 'px ' + FONT;
  const fSub = 'italic ' + (size * 0.7) + 'px ' + FONT;
  const runs = [];
  partes.forEach(p => {
    if (p === 'RHO') {
      runs.push({ t: 'ρ', f: fRho, dy: 0 });
      runs.push({ t: 'rel', f: fSub, dy: size * 0.22 });
    } else {
      runs.push({ t: p, f: fNorm, dy: 0 });
    }
  });
  let total = 0;
  runs.forEach(r => { ctx.font = r.f; r.w = ctx.measureText(r.t).width; total += r.w; });
  let x = cx - total / 2;
  ctx.textAlign = 'left';
  ctx.fillStyle = color;
  runs.forEach(r => {
    ctx.font = r.f;
    ctx.fillText(r.t, x, y + r.dy);
    x += r.w;
  });
}

const textosPlugin = {
  id: 'textos',
  afterDatasetsDraw(chart) {
    const ctx = chart.ctx;
    const sx = chart.scales.x, sy = chart.scales.y;
    ctx.save();
    ctx.textBaseline = 'alphabetic';

    // título
    texto(ctx, 'Distribucion geografica ponderada por densidad - Cluster: 6447', 1860, 90, 'bold 45.6px ' + FONT, '#000', 'center');
    lineaRho(ctx, ['RHO', ': Densidad relativa respecto a la media nacional. Ej: +0.10 significa un 10% de sobreponderación.'], 1860, 176, 22.9, '#000', true);
    lineaRho(ctx, ['(Si una provincia tiene 50 empresas con ', 'RHO', ' +0.10, tiene un exceso de 5 empresas respecto a su cuota esperada).'], 1860, 204, 22.9, '#000', true);

    // panel izquierdo
    texto(ctx, 'Interim y Executive Search', 159, 407, 'bold 33px ' + FONT, '#000');
    subtitulo.forEach((l, i) => texto(ctx, l, 159, [481, 513, 544][i], '27.8px ' + FONT, '#000'));
    texto(ctx, 'Total empresas: 99', 159, 661, 'bold 30.5px ' + FONT, '#000');
    ctx.strokeStyle = '#999';
    ctx.lineWidth = 2;
    ctx.beginPath(); ctx.moveTo(159, 690); ctx.lineTo(763, 690); ctx.stroke();
    texto(ctx, 'Top 3 empresas (empleados)', 159, 765, '25.2px ' + FONT, '#000');
    topEmpresas.forEach((l, i) => texto(ctx, l, 159, [822, 864, 906][i], 'italic 22.9px ' + FONT, '#000'));
    texto(ctx, 'Principales keywords', 159, 1005, 'bold 25px ' + FONT, '#000');
    keywords.forEach((l, i) => texto(ctx, l, 159, 1046 + i * 26.3, '22.8px ' + FONT, '#000'));
    texto(ctx, 'Descripción del cluster', 159, 1441, 'bold 25px ' + FONT, '#000');
    descripcion.forEach((l, i) => texto(ctx, l, 159, 1482 + i * 26.4, '22.8px ' + FONT, '#444'));

    // etiquetas de provincia
    provincias.forEach((nombre, i) => {
      const x = sx.getPixelForValue(etiquetaX[i]);
      const y = sy.getPixelForValue(etiquetaY[i]);
      if (densidad[i] === null) {
        const chica = nombre === 'Ceuta' || nombre === 'Melilla';
        const grande = nombre === 'Santa Cruz de Tenerife' || nombre === 'Las Palmas' || nombre === 'Baleares';
        texto(ctx, nombre, x, y + 7, (chica ? 18 : grande ? 21 : 20) + 'px ' + FONT, '#555', 'center');
        texto(ctx, 'Sin empresas', x, y + 29, (chica ? 14.5 : 16.5) + 'px ' + FONT, '#888', 'center');
      } else {
        const signo = densidad[i] >= 0 ? '+' : '';
        texto(ctx, nombre, x, y + 7, 'bold 20px ' + FONT, '#000', 'center');
        texto(ctx, 'Empresas: ' + empresas[i], x, y + 34, '17px ' + FONT, '#222', 'center');
        lineaRho(ctx, ['RHO', ': ' + signo + densidad[i].toFixed(2)], x, y + 53, 17, '#222', false);
      }
    });

    // leyenda
    texto(ctx, 'Referencias de colores', 3223, 1993, '27px ' + FONT, '#000');
    clases.forEach((c, i) => {
      const y = 2052 + i * 38.4;
      ctx.fillStyle = coloresClase[i];
      ctx.fillRect(3228, y - 9, 46, 18);
      texto(ctx, c, 3296, y + 9, '25px ' + FONT, '#000');
    });
    ctx.restore();
  }
};

new Chart(document.getElementById('mapa'), {
  type: 'scatter',
  data: { datasets },
  options: {
    responsive: false,
    devicePixelRatio: 1,
    animation: false,
    layout: { padding: 0, autoPadding: false },
    plugins: { legend: { display: false }, tooltip: { enabled: false } },
    scales: {
      x: { type: 'linear', display: false, min: 0, max: 3840 },
      y: { type: 'linear', display: false, min: 0, max: 2436, reverse: true }
    }
  },
  plugins: [textosPlugin]
});
</script>
</body>
</html>
